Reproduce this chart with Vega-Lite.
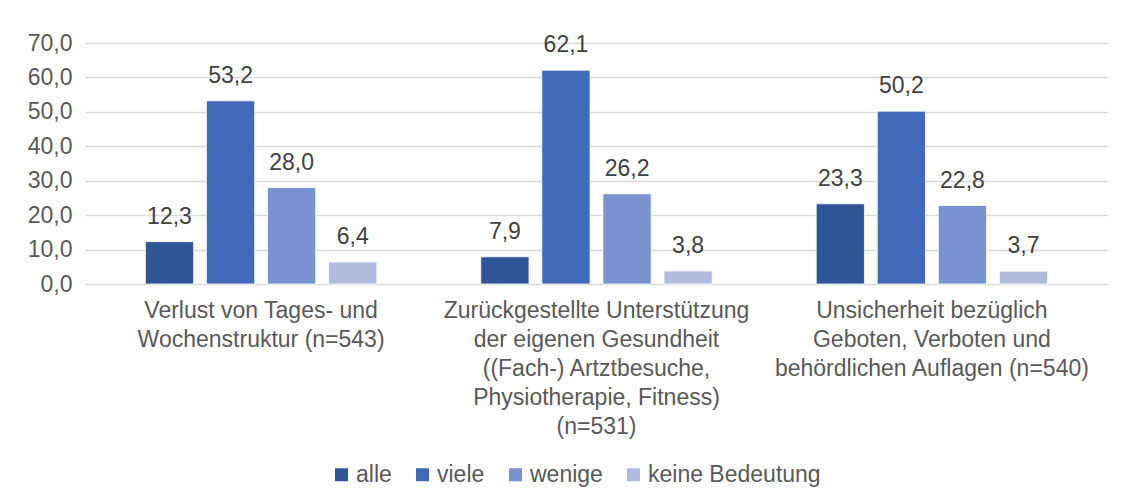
{
  "$schema": "https://vega.github.io/schema/vega-lite/v6.json",
  "autosize": {"type": "none"},
  "padding": {"left": 85, "top": 43, "right": 20, "bottom": 215},
  "width": 1023,
  "height": 241,
  "background": "white",
  "config": {
    "locale": {"number": {"decimal": ",", "thousands": ".", "grouping": [3], "currency": ["", " €"]}},
    "font": "Liberation Sans",
    "view": {"stroke": null}
  },
  "data": {
    "values": [
      {"gruppe": "Verlust von Tages- und|Wochenstruktur (n=543)", "kat": "alle", "wert": 12.3},
      {"gruppe": "Verlust von Tages- und|Wochenstruktur (n=543)", "kat": "viele", "wert": 53.2},
      {"gruppe": "Verlust von Tages- und|Wochenstruktur (n=543)", "kat": "wenige", "wert": 28.0},
      {"gruppe": "Verlust von Tages- und|Wochenstruktur (n=543)", "kat": "keine Bedeutung", "wert": 6.4},
      {"gruppe": "Zurückgestellte Unterstützung|der eigenen Gesundheit|((Fach-) Artztbesuche,|Physiotherapie, Fitness)|(n=531)", "kat": "alle", "wert": 7.9},
      {"gruppe": "Zurückgestellte Unterstützung|der eigenen Gesundheit|((Fach-) Artztbesuche,|Physiotherapie, Fitness)|(n=531)", "kat": "viele", "wert": 62.1},
      {"gruppe": "Zurückgestellte Unterstützung|der eigenen Gesundheit|((Fach-) Artztbesuche,|Physiotherapie, Fitness)|(n=531)", "kat": "wenige", "wert": 26.2},
      {"gruppe": "Zurückgestellte Unterstützung|der eigenen Gesundheit|((Fach-) Artztbesuche,|Physiotherapie, Fitness)|(n=531)", "kat": "keine Bedeutung", "wert": 3.8},
      {"gruppe": "Unsicherheit bezüglich|Geboten, Verboten und|behördlichen Auflagen (n=540)", "kat": "alle", "wert": 23.3},
      {"gruppe": "Unsicherheit bezüglich|Geboten, Verboten und|behördlichen Auflagen (n=540)", "kat": "viele", "wert": 50.2},
      {"gruppe": "Unsicherheit bezüglich|Geboten, Verboten und|behördlichen Auflagen (n=540)", "kat": "wenige", "wert": 22.8},
      {"gruppe": "Unsicherheit bezüglich|Geboten, Verboten und|behördlichen Auflagen (n=540)", "kat": "keine Bedeutung", "wert": 3.7}
    ]
  },
  "encoding": {
    "x": {
      "field": "gruppe", "type": "nominal", "sort": null,
      "scale": {"paddingInner": 0.31, "paddingOuter": 0.18},
      "axis": {
        "title": null, "labelAngle": 0, "domain": false, "ticks": false,
        "labelExpr": "split(datum.label, '|')",
        "labelFontSize": 23, "labelLineHeight": 29, "labelColor": "#595959",
        "labelPadding": 15, "labelLimit": 500, "labelBaseline": "top"
      }
    },
    "xOffset": {
      "field": "kat", "type": "nominal", "sort": ["alle", "viele", "wenige", "keine Bedeutung"],
      "scale": {"paddingInner": 0.21, "paddingOuter": 0}
    },
    "y": {
      "field": "wert", "type": "quantitative",
      "scale": {"domain": [0, 70], "nice": false},
      "axis": {
        "title": null, "values": [0, 10, 20, 30, 40, 50, 60, 70], "format": ".1f",
        "domain": false, "ticks": false, "labelFontSize": 23, "labelColor": "#595959",
        "labelPadding": 13, "gridColor": "#D9D9D9", "gridWidth": 1.3
      }
    }
  },
  "layer": [
    {
      "mark": {"type": "bar", "stroke": "white", "strokeWidth": 0.8},
      "encoding": {
        "color": {
          "field": "kat", "type": "nominal",
          "sort": ["alle", "viele", "wenige", "keine Bedeutung"],
          "scale": {"domain": ["alle", "viele", "wenige", "keine Bedeutung"], "range": ["#2F5597", "#4069B8", "#7A92CF", "#B0BCDF"]},
          "legend": {
            "title": null, "orient": "none", "direction": "horizontal",
            "legendX": 245, "legendY": 420, "padding": 0,
            "symbolType": "square", "symbolSize": 169, "symbolStrokeWidth": 0,
            "labelFontSize": 23, "labelColor": "#595959", "labelOffset": 3,
            "labelLimit": 400, "columnPadding": 19, "symbolOffset": 0
          }
        }
      }
    },
    {
      "mark": {"type": "text", "baseline": "alphabetic", "dy": -18, "fontSize": 23, "color": "#404040"},
      "encoding": {
        "text": {"field": "wert", "type": "quantitative", "format": ".1f"}
      }
    }
  ]
}
